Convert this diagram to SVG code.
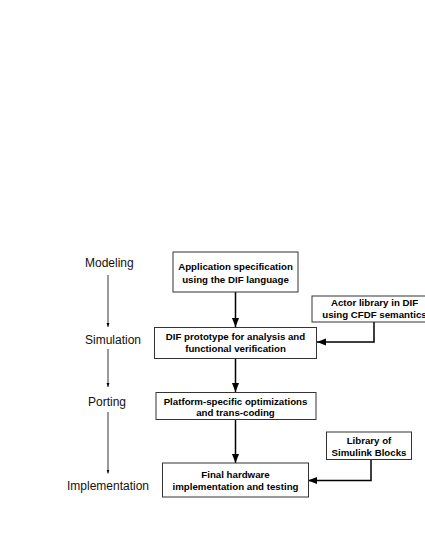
<svg xmlns="http://www.w3.org/2000/svg" width="425" height="550" viewBox="0 0 425 550">
<defs>
<style>
.box{fill:#fff;stroke:#333;stroke-width:1}
.bt{font-family:"Liberation Sans",Arial,sans-serif;font-weight:bold;font-size:9.7px;fill:#000;text-anchor:middle}
.lbl{font-family:"Liberation Sans",Arial,sans-serif;font-size:12px;fill:#111}
.big{fill:none;stroke:#000;stroke-width:1.5}
.thin{fill:none;stroke:#000;stroke-width:0.8}
</style>
<marker id="ah" markerUnits="userSpaceOnUse" markerWidth="10" markerHeight="8" refX="9" refY="3.5" orient="auto">
<path d="M0,0 L9,3.5 L0,7 Z" fill="#000"/>
</marker>
<marker id="sh" markerUnits="userSpaceOnUse" markerWidth="5" markerHeight="4" refX="4" refY="1.5" orient="auto">
<path d="M0,0 L4,1.5 L0,3 Z" fill="#000"/>
</marker>
</defs>
<rect width="425" height="550" fill="#fff"/>
<g id="connectors">
<line class="big" x1="235.5" y1="292" x2="235.5" y2="327" marker-end="url(#ah)"/>
<polyline class="big" points="374,322 374,342 317,342" marker-end="url(#ah)"/>
<line class="big" x1="235.5" y1="358" x2="235.5" y2="392" marker-end="url(#ah)"/>
<line class="big" x1="235.5" y1="419" x2="235.5" y2="463" marker-end="url(#ah)"/>
<polyline class="big" points="371,459 371,480.5 308,480.5" marker-end="url(#ah)"/>
<line class="thin" x1="108" y1="275" x2="108" y2="327" marker-end="url(#sh)"/>
<line class="thin" x1="108" y1="349" x2="108" y2="387" marker-end="url(#sh)"/>
<line class="thin" x1="108" y1="412" x2="108" y2="473.5" marker-end="url(#sh)"/>
</g>
<g id="label-modeling"><text class="lbl" x="85" y="267">Modeling</text></g>
<g id="label-simulation"><text class="lbl" x="85" y="344">Simulation</text></g>
<g id="label-porting"><text class="lbl" x="88" y="406">Porting</text></g>
<g id="label-implementation"><text class="lbl" x="67" y="490">Implementation</text></g>
<g id="app-spec">
<rect class="box" x="173" y="252" width="125" height="40"/>
<text class="bt" x="235.5" y="270">Application specification</text>
<text class="bt" x="235.5" y="283">using the DIF language</text>
</g>
<g id="actor-lib">
<rect class="box" x="312" y="296" width="125" height="26"/>
<text class="bt" x="374.5" y="306">Actor library in DIF</text>
<text class="bt" x="374.5" y="318">using CFDF semantics</text>
</g>
<g id="dif-proto">
<rect class="box" x="154.5" y="327.5" width="162" height="31"/>
<text class="bt" x="235.5" y="340">DIF prototype for analysis and</text>
<text class="bt" x="235.5" y="352">functional verification</text>
</g>
<g id="platform">
<rect class="box" x="156" y="392.5" width="160" height="27"/>
<text class="bt" x="235.5" y="404.5">Platform-specific optimizations</text>
<text class="bt" x="235.5" y="416">and trans-coding</text>
</g>
<g id="simulink-lib">
<rect class="box" x="326.5" y="432" width="85" height="27.5"/>
<text class="bt" x="369" y="444">Library of</text>
<text class="bt" x="369" y="456">Simulink Blocks</text>
</g>
<g id="final-hw">
<rect class="box" x="162.5" y="463" width="146" height="34"/>
<text class="bt" x="235.5" y="477.5">Final hardware</text>
<text class="bt" x="235.5" y="490">implementation and testing</text>
</g>
</svg>
